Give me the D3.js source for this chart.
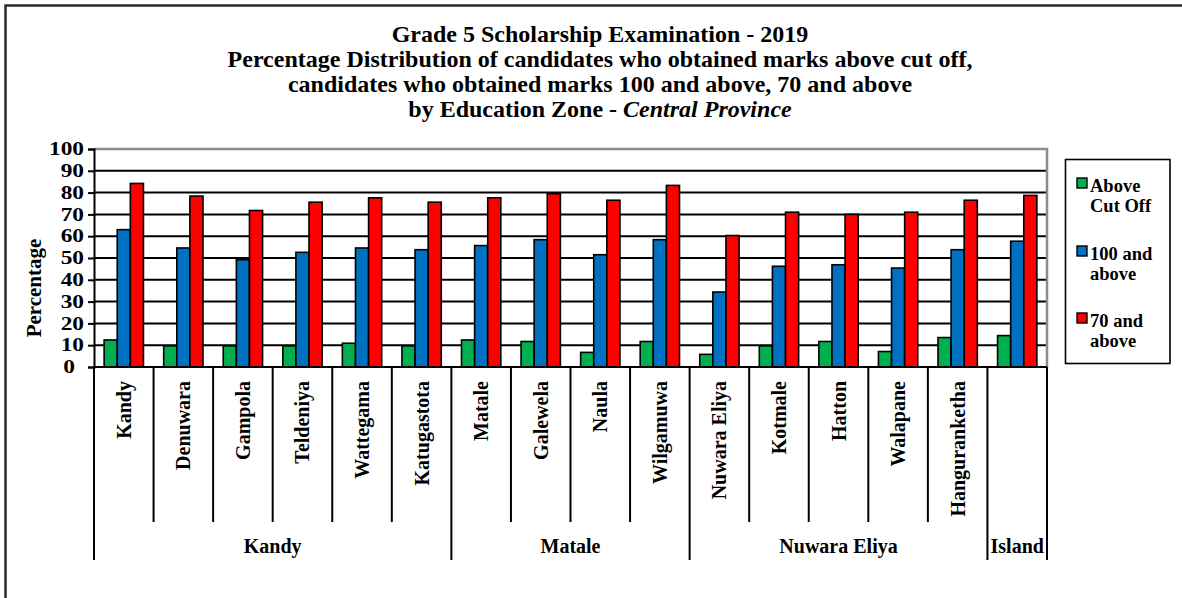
<!DOCTYPE html>
<html>
<head>
<meta charset="utf-8">
<script src="https://cdn.jsdelivr.net/npm/d3@7"></script>
<style>
  body { margin: 0; background: #fff; }
  svg text { font-family: "Liberation Serif", "Times New Roman", serif; font-weight: bold; fill: #000; }
</style>
</head>
<body>
<svg id="chart" width="1182" height="598"></svg>
<script>
/* data */
var zones = ["Kandy","Denuwara","Gampola","Teldeniya","Wattegama","Katugastota",
             "Matale","Galewela","Naula","Wilgamuwa",
             "Nuwara Eliya","Kotmale","Hatton","Walapane","Hanguranketha","Island"];
var zoneLabels = ["Kandy","Denuwara","Gampola","Teldeniya","Wattegama","Katugastota",
             "Matale","Galewela","Naula","Wilgamuwa",
             "Nuwara Eliya","Kotmale","Hatton","Walapane","Hanguranketha",""];
var districts = ["Kandy","Matale","Nuwara Eliya","Island"];
var districtSizes = [6, 4, 5, 1];

var aboveCutOff = [12.4, 9.7, 9.7, 9.7, 10.9, 9.7, 12.4, 11.7, 6.7, 11.7, 5.8, 9.7, 11.7, 7.1, 13.5, 14.4];
var above100    = [63.0, 54.6, 49.2, 52.6, 54.6, 53.8, 55.7, 58.4, 51.5, 58.4, 34.4, 46.2, 46.9, 45.4, 53.8, 57.7];
var above70     = [84.2, 78.4, 71.8, 75.6, 77.6, 75.6, 77.6, 79.5, 76.5, 83.3, 60.3, 71.0, 70.0, 71.0, 76.5, 78.7];

var seriesNames = ["Above Cut Off", "100 and above", "70 and above"];
var legendLines = [["Above", "Cut Off"], ["100 and", "above"], ["70 and", "above"]];
var seriesColors = ["#00B050", "#0070C0", "#FF0000"];
var yTicks = [0,10,20,30,40,50,60,70,80,90,100];

var titleLines = ["Grade 5 Scholarship Examination - 2019",
  "Percentage Distribution of candidates who obtained marks above cut off,",
  "candidates who obtained marks 100 and above, 70 and above",
  "by Education Zone - "];
var titleItalic = "Central Province";

/* layout */
var plot = { left: 94, right: 1047, top: 149, bottom: 367 };

var svg = d3.select("#chart");

/* outer frame */
svg.append("rect")
  .attr("x", 5.5).attr("y", 5.5)
  .attr("width", 1190).attr("height", 610)
  .attr("fill", "none").attr("stroke", "#2b2b2b").attr("stroke-width", 2.5);

/* title */
var title = svg.append("text")
  .attr("text-anchor", "middle")
  .style("font-size", "24px");
titleLines.forEach(function(t, i) {
  title.append("tspan").attr("x", 600).attr("y", 42 + i * 25).text(t);
});
title.append("tspan").style("font-style", "italic").text(titleItalic);

/* scales */
var x0 = d3.scaleBand().domain(zones).range([plot.left, plot.right]);
var bw = x0.bandwidth();
var x1 = d3.scaleBand().domain(seriesNames).range([bw * 0.17, bw * 0.83]);
var y = d3.scaleLinear().domain([0, 100]).range([plot.bottom, plot.top]);

/* gridlines */
svg.append("g").selectAll("line")
  .data(yTicks.filter(function(d){ return d > 0 && d < 100; }))
  .enter().append("line")
  .attr("x1", plot.left).attr("x2", plot.right)
  .attr("y1", function(d){ return y(d); }).attr("y2", function(d){ return y(d); })
  .attr("stroke", "#000").attr("stroke-width", 2);

/* plot border top and right (grey) */
svg.append("path")
  .attr("d", "M" + plot.left + "," + y(100) + "H" + plot.right + "V" + plot.bottom)
  .attr("fill", "none").attr("stroke", "#8c8c8c").attr("stroke-width", 2.5);

/* bars */
var rows = zones.map(function(z, i) {
  return { zone: z, values: [aboveCutOff[i], above100[i], above70[i]] };
});
svg.append("g").selectAll("g")
  .data(rows)
  .enter().append("g")
  .attr("transform", function(d){ return "translate(" + x0(d.zone) + ",0)"; })
  .selectAll("rect")
  .data(function(d){ return d.values.map(function(v, k){ return { s: seriesNames[k], v: v, k: k }; }); })
  .enter().append("rect")
  .attr("x", function(d){ return x1(d.s); })
  .attr("width", x1.bandwidth())
  .attr("y", function(d){ return y(d.v); })
  .attr("height", function(d){ return y(0) - y(d.v); })
  .attr("fill", function(d){ return seriesColors[d.k]; })
  .attr("stroke", "#000").attr("stroke-width", 1.6);

/* y-axis */
var yAxisG = svg.append("g")
  .attr("transform", "translate(" + plot.left + ",0)")
  .call(d3.axisLeft(y).tickValues(yTicks).tickSize(6).tickPadding(0));
yAxisG.select(".domain").attr("stroke", "#000").attr("stroke-width", 2);
yAxisG.selectAll(".tick line").attr("stroke", "#000").attr("stroke-width", 2);
yAxisG.selectAll(".tick text")
  .attr("x", function(d){ return d === 0 ? -19 / 1.3 : -10 / 1.3; })
  .attr("transform", "scale(1.3,1)")
  .style("font-size", "18px").style("font-family", "Liberation Serif, serif").style("font-weight", "bold");

svg.append("text")
  .attr("transform", "translate(41,288) rotate(-90)")
  .attr("text-anchor", "middle")
  .style("font-size", "21px")
  .text("Percentage");

/* x-axis: baseline, category dividers, labels */
svg.append("line")
  .attr("x1", plot.left).attr("x2", plot.right)
  .attr("y1", plot.bottom).attr("y2", plot.bottom)
  .attr("stroke", "#000").attr("stroke-width", 2);

var groupStarts = [0];
districtSizes.forEach(function(n, i){ groupStarts.push(groupStarts[i] + n); });

var edges = zones.map(function(z){ return x0(z); }).concat([plot.right]);
svg.append("g").selectAll("line")
  .data(edges)
  .enter().append("line")
  .attr("x1", function(d){ return d; }).attr("x2", function(d){ return d; })
  .attr("y1", plot.bottom)
  .attr("y2", function(d, i){ return groupStarts.indexOf(i) >= 0 ? 560 : 522; })
  .attr("stroke", "#000").attr("stroke-width", 2);

svg.append("g").selectAll("text")
  .data(zones)
  .enter().append("text")
  .attr("transform", function(d){ return "translate(" + (x0(d) + bw / 2) + ",381) rotate(-90)"; })
  .attr("dy", "0.35em")
  .attr("text-anchor", "end")
  .style("font-size", "20px")
  .text(function(d, i){ return zoneLabels[i]; });

svg.append("g").selectAll("text")
  .data(districts)
  .enter().append("text")
  .attr("x", function(d, i){ return (edges[groupStarts[i]] + edges[groupStarts[i + 1]]) / 2; })
  .attr("y", 553)
  .attr("text-anchor", "middle")
  .style("font-size", "20px")
  .text(function(d){ return d; });

/* legend */
var legend = svg.append("g");
legend.append("rect")
  .attr("x", 1065.5).attr("y", 159.5).attr("width", 104.5).attr("height", 204)
  .attr("fill", "#fff").attr("stroke", "#000").attr("stroke-width", 1.6);

var legendTops = [178, 246, 313];
var items = legend.selectAll("g.item")
  .data(seriesNames)
  .enter().append("g")
  .attr("class", "item")
  .attr("transform", function(d, i){ return "translate(1077," + legendTops[i] + ")"; });
items.append("rect")
  .attr("width", 10).attr("height", 10)
  .attr("fill", function(d, i){ return seriesColors[i]; })
  .attr("stroke", "#000").attr("stroke-width", 1.4);
items.append("text")
  .style("font-size", "18.5px")
  .selectAll("tspan")
  .data(function(d, i){ return legendLines[i]; })
  .enter().append("tspan")
  .attr("x", 13)
  .attr("y", function(d, j){ return 14 + j * 20; })
  .text(function(d){ return d; });
</script>
</body>
</html>
